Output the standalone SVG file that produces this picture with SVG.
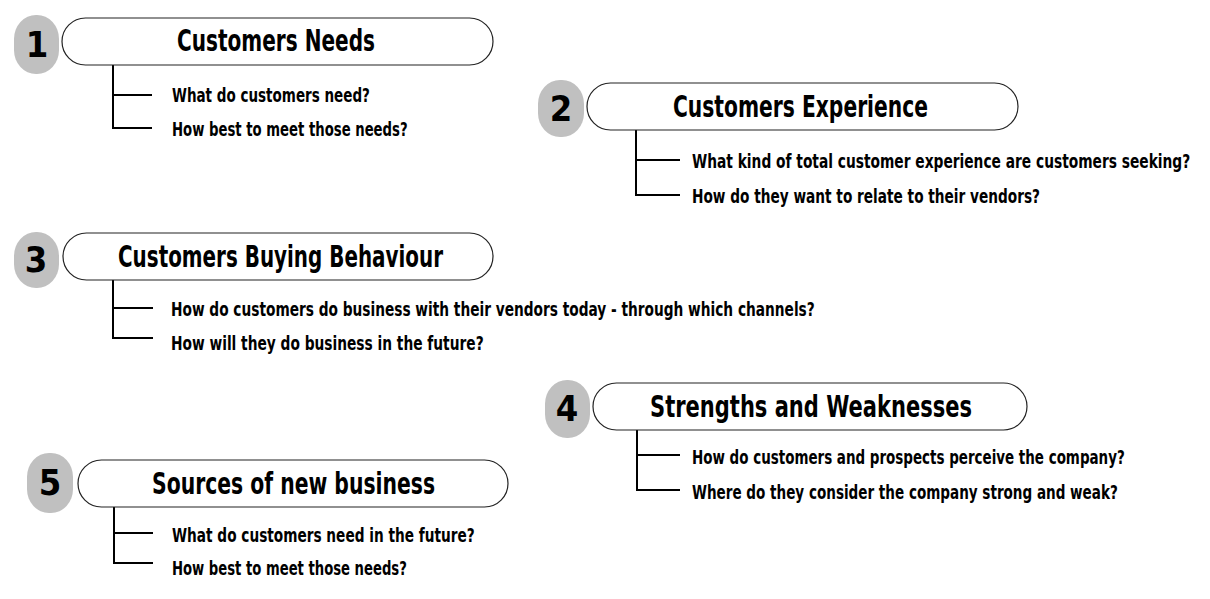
<svg xmlns="http://www.w3.org/2000/svg" width="1210" height="599" viewBox="0 0 1210 599">
<style>
.blob{fill:#c0c0c0;stroke:none}
.pill{fill:#ffffff;stroke:#222;stroke-width:1.2}
.num{font-family:"DejaVu Sans Condensed","DejaVu Sans",sans-serif;font-weight:bold;font-size:36px;fill:#000;text-anchor:middle}
.title{font-family:"DejaVu Sans Condensed","Liberation Sans",sans-serif;font-weight:bold;font-size:30px;fill:#000}
.q{font-family:"DejaVu Sans Condensed","Liberation Sans",sans-serif;font-weight:bold;font-size:20px;fill:#000}
.br{fill:none;stroke:#000;stroke-width:2}
</style>
<rect width="1210" height="599" fill="#ffffff"/>
<g id="connectors">
<path class="br" d="M113 65 V128 H152 M113 95 H152"/>
<path class="br" d="M636 130 V195 H680 M636 160 H680"/>
<path class="br" d="M113 280 V338 H153 M113 308 H153"/>
<path class="br" d="M637 430 V490 H680 M637 455 H680"/>
<path class="br" d="M114 507 V563 H153 M114 533 H153"/>
</g>
<g id="node1">
<rect class="blob" x="14" y="15" width="45" height="59" rx="22" ry="24"/>
<text class="num" x="37" y="57">1</text>
<rect class="pill" x="62" y="18" width="431" height="47" rx="23.5"/>
<text class="title" x="177" y="51" textLength="198" lengthAdjust="spacingAndGlyphs">Customers Needs</text>
<text class="q" transform="translate(172 102) scale(0.77 1)" textLength="257" lengthAdjust="spacingAndGlyphs">What do customers need?</text>
<text class="q" transform="translate(172 136) scale(0.77 1)" textLength="306" lengthAdjust="spacingAndGlyphs">How best to meet those needs?</text>
</g>
<g id="node2">
<rect class="blob" x="538" y="80" width="46" height="57" rx="22" ry="24"/>
<text class="num" x="561" y="121">2</text>
<rect class="pill" x="587" y="83" width="431" height="47" rx="23.5"/>
<text class="title" x="673" y="117" textLength="255" lengthAdjust="spacingAndGlyphs">Customers Experience</text>
<text class="q" transform="translate(692 168) scale(0.77 1)" textLength="647" lengthAdjust="spacingAndGlyphs">What kind of total customer experience are customers seeking?</text>
<text class="q" transform="translate(692 203) scale(0.77 1)" textLength="452" lengthAdjust="spacingAndGlyphs">How do they want to relate to their vendors?</text>
</g>
<g id="node3">
<rect class="blob" x="14" y="232" width="45" height="56" rx="22" ry="24"/>
<text class="num" x="36" y="272">3</text>
<rect class="pill" x="63" y="233" width="430" height="47" rx="23.5"/>
<text class="title" x="118" y="267" textLength="325" lengthAdjust="spacingAndGlyphs">Customers Buying Behaviour</text>
<text class="q" transform="translate(171 316) scale(0.77 1)" textLength="836" lengthAdjust="spacingAndGlyphs">How do customers do business with their vendors today - through which channels?</text>
<text class="q" transform="translate(171 350) scale(0.77 1)" textLength="406" lengthAdjust="spacingAndGlyphs">How will they do business in the future?</text>
</g>
<g id="node4">
<rect class="blob" x="545" y="380" width="45" height="58" rx="22" ry="24"/>
<text class="num" x="567" y="421">4</text>
<rect class="pill" x="593" y="383" width="434" height="47" rx="23.5"/>
<text class="title" x="650" y="417" textLength="322" lengthAdjust="spacingAndGlyphs">Strengths and Weaknesses</text>
<text class="q" transform="translate(692 464) scale(0.77 1)" textLength="562" lengthAdjust="spacingAndGlyphs">How do customers and prospects perceive the company?</text>
<text class="q" transform="translate(692 499) scale(0.77 1)" textLength="553" lengthAdjust="spacingAndGlyphs">Where do they consider the company strong and weak?</text>
</g>
<g id="node5">
<rect class="blob" x="27" y="453" width="46" height="60" rx="22" ry="24"/>
<text class="num" x="50" y="495">5</text>
<rect class="pill" x="78" y="460" width="430" height="47" rx="23.5"/>
<text class="title" x="152" y="494" textLength="283" lengthAdjust="spacingAndGlyphs">Sources of new business</text>
<text class="q" transform="translate(172 542) scale(0.77 1)" textLength="393" lengthAdjust="spacingAndGlyphs">What do customers need in the future?</text>
<text class="q" transform="translate(172 575) scale(0.77 1)" textLength="305" lengthAdjust="spacingAndGlyphs">How best to meet those needs?</text>
</g>
</svg>
